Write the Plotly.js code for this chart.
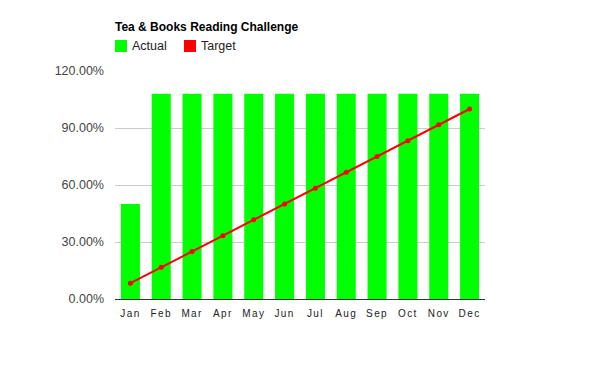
<!DOCTYPE html>
<html>
<head>
<meta charset="utf-8">
<script src="https://cdn.plot.ly/plotly-3.0.1.min.js"></script>
<style>
html,body{margin:0;padding:0;background:#fff;}
#chart{width:600px;height:371px;}
#chart .xtick text{letter-spacing:1.4px;}
</style>
</head>
<body>
<div id="chart"></div>
<script>
const months = ["Jan","Feb","Mar","Apr","May","Jun","Jul","Aug","Sep","Oct","Nov","Dec"];
const actual = [0.50,1.08,1.08,1.08,1.08,1.08,1.08,1.08,1.08,1.08,1.08,1.08];
const target = [0.0833,0.1667,0.25,0.3333,0.4167,0.50,0.5833,0.6667,0.75,0.8333,0.9167,1.00];
const yTicks = [0,0.3,0.6,0.9,1.2];
const seriesNames = ["Actual","Target"];
const seriesColors = ["#00ff00","#ff0000"];

const traces = [
  {type:'bar', x:months, y:actual, name:seriesNames[0], marker:{color:seriesColors[0]}, hoverinfo:'none'},
  {type:'scatter', mode:'lines+markers', x:months, y:target, name:seriesNames[1],
   line:{color:seriesColors[1], width:2}, marker:{color:seriesColors[1], size:5}, hoverinfo:'none'}
];

// manual legend (squares + labels), positions in pixels converted to paper coords
const W = 600, H = 371;
const PL = 115, PR = 485, PT = 71, PB = 299;
const fx = v => (v - PL) / (PR - PL), fy = v => (PB - v) / (PB - PT);
const legendX = [115, 184];
const shapes = [], annotations = [];
seriesNames.forEach((n, i) => {
  shapes.push({type:'rect', xref:'paper', yref:'paper', layer:'above',
    x0:fx(legendX[i]), x1:fx(legendX[i]+12), y0:fy(52), y1:fy(40),
    fillcolor:seriesColors[i], line:{width:0}});
  annotations.push({text:n, xref:'paper', yref:'paper', showarrow:false,
    x:fx(legendX[i]+15), xanchor:'left', y:fy(46), yanchor:'middle',
    font:{size:12.5, color:'#222'}});
});

const layout = {
  width:W, height:H,
  margin:{l:PL, r:W-PR, t:PT, b:H-PB, autoexpand:false},
  paper_bgcolor:'#fff', plot_bgcolor:'#fff',
  font:{family:'Liberation Sans, Arial, sans-serif', color:'#444'},
  title:{text:'<b>Tea & Books Reading Challenge</b>', x:0, xref:'paper', xanchor:'left',
         y:1-26.5/371, yref:'container', yanchor:'middle', font:{size:12, color:'#000'}},
  bargap:0.383,
  showlegend:false,
  shapes:shapes, annotations:annotations,
  xaxis:{type:'category', range:[-0.5, 11.5], showgrid:false, showline:true, linecolor:'#333', linewidth:1,
         ticks:'', tickfont:{size:10, color:'#222'}, ticklabelstandoff:5, fixedrange:true},
  yaxis:{range:[0,1.2], tickvals:yTicks, tickformat:'.2%', showgrid:true, gridcolor:'#cccccc',
         zeroline:false, showline:false, ticks:'', tickfont:{size:12.5, color:'#444'},
         ticklabelstandoff:10, fixedrange:true}
};

Plotly.newPlot('chart', traces, layout, {displayModeBar:false, staticPlot:true});
</script>
</body>
</html>
